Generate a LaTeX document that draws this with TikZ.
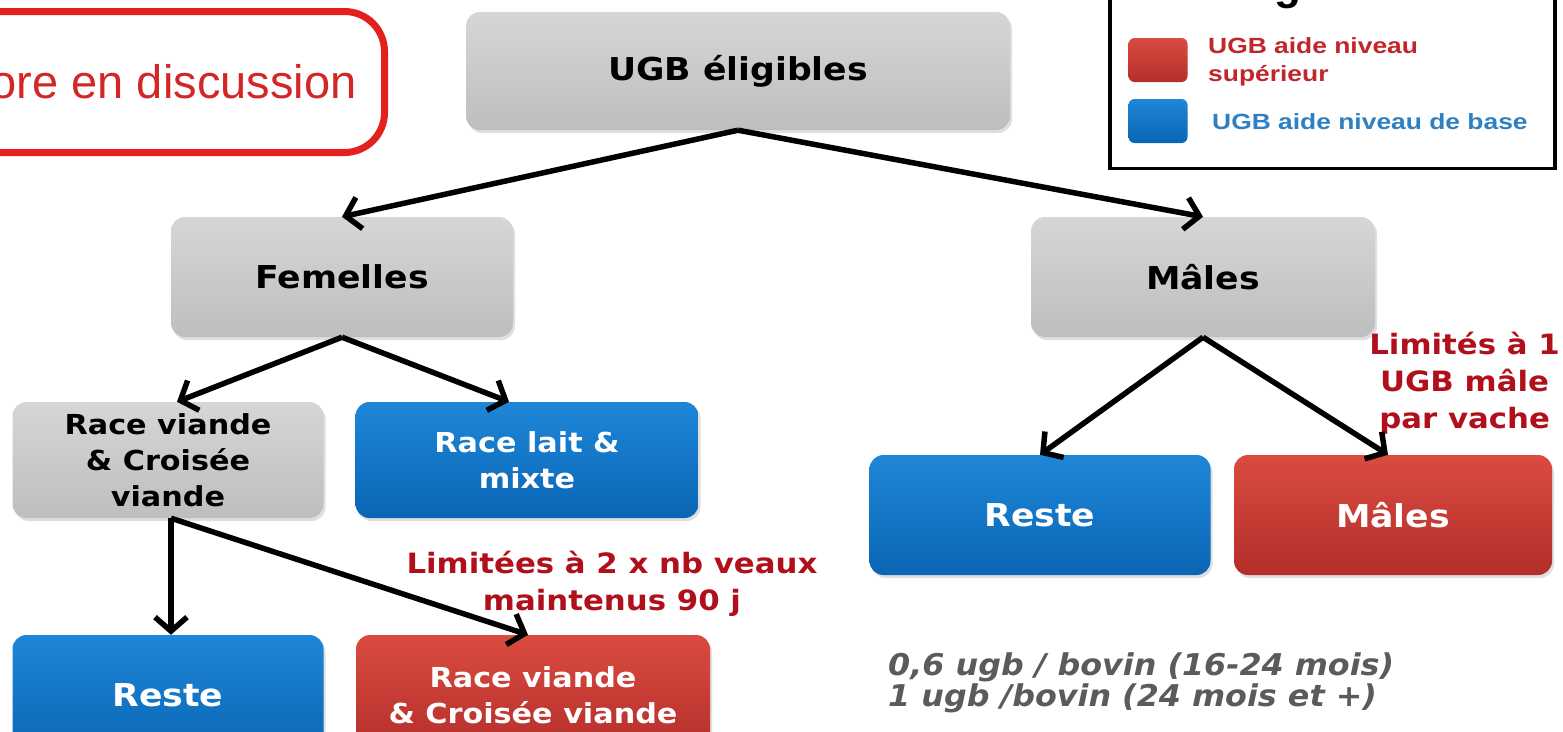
\documentclass[tikz,border=0pt]{standalone}
\usepackage{fontspec}
\setmainfont{DejaVu Sans}
\newfontfamily\boxf{DejaVu Sans}[FakeStretch=1.1]
\newfontfamily\legf{Liberation Sans}[FakeStretch=1.2]
\newfontfamily\arf{Liberation Sans}
\newfontfamily\itf{DejaVu Sans}[FakeStretch=1.06]
\usetikzlibrary{arrows.meta,shadows}
\definecolor{gA}{HTML}{D6D6D6}
\definecolor{gB}{HTML}{BEBEBE}
\definecolor{bA}{HTML}{1E86D8}
\definecolor{bB}{HTML}{0A66B5}
\definecolor{rA}{HTML}{DA4B41}
\definecolor{rB}{HTML}{B32E2A}
\definecolor{limred}{HTML}{B0101C}
\definecolor{discred}{HTML}{E3201B}
\definecolor{disctext}{HTML}{D42626}
\definecolor{legred}{HTML}{C0262C}
\definecolor{legblue}{HTML}{2F80C2}
\definecolor{itgrey}{HTML}{5B5B5B}
\tikzset{
  box/.style={rounded corners=14pt, align=center, inner sep=0pt,
    font=\boxf\bfseries\fontsize{31.5}{36}\selectfont,
    drop shadow={opacity=0.25, shadow xshift=2pt, shadow yshift=-3pt}},
  greybox/.style={box, top color=gA, bottom color=gB, text=black},
  bluebox/.style={box, top color=bA, bottom color=bB, text=white},
  redbox/.style={box, top color=rA, bottom color=rB, text=white},
  smalltext/.style={font=\boxf\bfseries\fontsize{27.5}{36}\selectfont},
  arr/.style={line width=5.5pt, -{Straight Barb[length=14pt,width=32pt]}},
  limtext/.style={text=limred, font=\boxf\bfseries\fontsize{28}{37}\selectfont, align=center, inner sep=0pt},
  legsq/.style={rounded corners=6pt, minimum width=59pt, minimum height=44pt, inner sep=0pt},
}
\begin{document}
\begin{tikzpicture}[x=1pt,y=-1pt]
\useasboundingbox (0,0) rectangle (1563,731);
\fill[white] (0,0) rectangle (1563,731);
\begin{scope}
\clip (0,0) rectangle (1563,731);

% discussion box
\node[draw=discred, line width=7pt, rounded corners=40pt, text=disctext,
      font=\arf\fontsize{47}{56}\selectfont, anchor=east,
      inner xsep=28pt, minimum height=141pt] (disc) at (388,82) {Encore en discussion};

% legend
\node[draw=black, line width=3.5pt, minimum width=445pt, minimum height=200pt,
      anchor=south west, inner sep=0pt] (leg) at (1108,170) {};
\node[anchor=base west, inner sep=0pt, font=\arf\bfseries\fontsize{44}{50}\selectfont] (legt) at (1223,-1) {Légende};
\node[legsq, top color=rA, bottom color=rB] (lsqr) at (1158,60) {};
\node[legsq, top color=bA, bottom color=bB] (lsqb) at (1158,121) {};
\node[anchor=west, align=left, inner sep=0pt, text=legred,
      font=\legf\bfseries\fontsize{22}{28}\selectfont] (legr) at (1208,62) {UGB aide niveau\\supérieur};
\node[anchor=west, align=left, inner sep=0pt, text=legblue,
      font=\legf\bfseries\fontsize{22}{28}\selectfont] (legb) at (1212,122) {UGB aide niveau de base};

% boxes
\node[greybox, minimum width=544pt, minimum height=118pt] (ugb) at (738,71) {UGB éligibles};
\node[greybox, minimum width=342pt, minimum height=120pt] (fem) at (342,277) {Femelles};
\node[greybox, minimum width=344pt, minimum height=120pt] (mal) at (1203,277) {Mâles};
\node[greybox, smalltext, minimum width=311pt, minimum height=116pt] (rv) at (168,460) {Race viande\\\& Croisée\\viande};
\node[bluebox, smalltext, minimum width=343pt, minimum height=116pt] (rl) at (527,460) {Race lait \&\\mixte};
\node[bluebox, minimum width=341pt, minimum height=120pt] (rr) at (1040,515) {Reste};
\node[redbox, minimum width=318pt, minimum height=120pt] (mr) at (1393,515) {Mâles};
\node[bluebox, minimum width=311pt, minimum height=120pt] (rb) at (168,695) {Reste};
\node[redbox, smalltext, minimum width=354pt, minimum height=120pt] (rvb) at (533,695) {Race viande\\\& Croisée viande};

% labels
\node[limtext] (lim2) at (612,584) {Limitées à 2 x nb veaux\\maintenus 90 j};
\node[limtext, anchor=east] (lim1) at (1560,383) {Limités à 1\\UGB mâle\\par vache};
\node[anchor=west, align=left, inner sep=0pt, text=itgrey,
      font=\itf\bfseries\itshape\fontsize{30}{31}\selectfont] (ugbt) at (888,683)
      {0,6 ugb / bovin (16-24 mois)\\1 ugb /bovin (24 mois et +)};

% arrows
\draw[arr] (ugb.south) -- (fem.north);
\draw[arr] (ugb.south) -- (mal.north);
\draw[arr] (fem.south) -- ([xshift=9pt]rv.north);
\draw[arr] (fem.south) -- ([xshift=-18pt]rl.north);
\draw[arr] ([xshift=3pt]rv.south) -- ([xshift=3pt]rb.north);
\draw[arr] ([xshift=3pt]rv.south) -- ([xshift=-5pt]rvb.north);
\draw[arr] (mal.south) -- (rr.north);
\draw[arr] (mal.south) -- ([xshift=-5pt]mr.north);
\end{scope}
\end{tikzpicture}
\end{document}
